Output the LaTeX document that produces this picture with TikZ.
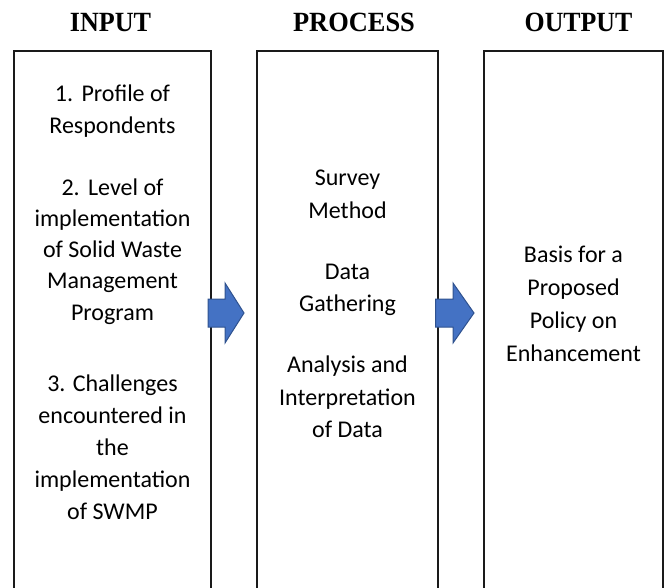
\documentclass[tikz,border=0pt]{standalone}
\usepackage{fontspec}
\usepackage{graphicx}
\setmainfont{Carlito}
\newfontfamily\headfont{Liberation Serif}
\definecolor{arrowfill}{HTML}{4472C4}
\definecolor{arrowline}{HTML}{2F528F}
\definecolor{boxline}{HTML}{1A1A1A}
\tikzset{
  colbox/.style={draw=boxline, line width=1.3pt},
  head/.style={anchor=base, font=\headfont\bfseries\fontsize{27.8}{30}\selectfont, inner sep=0pt},
  body/.style={anchor=base, align=center, font=\fontsize{24}{31.6}\selectfont, inner sep=0pt},
  blockarrow/.style={fill=arrowfill, draw=arrowline, line width=1pt, line join=miter}
}
\begin{document}
\begin{tikzpicture}[x=1pt,y=-1pt]
\useasboundingbox (0,0) rectangle (664,588);
% boxes (open at the bottom edge of the picture)
\draw[colbox] (14,600) -- (14,51) -- (211,51) -- (211,600);
\draw[colbox] (257,600) -- (257,51) -- (438,51) -- (438,600);
\draw[colbox] (484,600) -- (484,51) -- (663,51) -- (663,600);
% headers
\node[head] (hin) at (110.5,31.7) {\scalebox{0.94}[1]{INPUT}};
\node[head] (hproc) at (354,31.7) {\scalebox{0.95}[1]{PROCESS}};
\node[head] (hout) at (578.5,31.7) {\scalebox{0.93}[1]{OUTPUT}};
% input texts (anchor = baseline of the last line)
\node[body, font=\fontsize{24}{31.6}\selectfont] (in1) at (112.5,133.3) {1.\hspace{0.35em}Profile of\\Respondents};
\node[body, font=\fontsize{24}{31.25}\selectfont] (in2) at (112.5,320) {2.\hspace{0.35em}Level of\\implementation\\of Solid Waste\\Management\\Program};
\node[body, font=\fontsize{24}{31.8}\selectfont] (in3) at (112.5,519) {3. Challenges\\encountered in\\the\\implementation\\of SWMP};
% process texts
\node[body, font=\fontsize{24}{32.3}\selectfont] (pr1) at (347.5,218.3) {Survey\\Method};
\node[body, font=\fontsize{24}{32.3}\selectfont] (pr2) at (347.5,311.7) {Data\\Gathering};
\node[body, font=\fontsize{24}{32.3}\selectfont] (pr3) at (347.5,437.3) {Analysis and\\Interpretation\\of Data};
% output text
\node[body, font=\fontsize{24}{33}\selectfont] (out1) at (573.5,361.7) {Basis for a\\Proposed\\Policy on\\Enhancement};
% block arrows
\coordinate (a1) at (208,313);
\coordinate (a2) at (435.7,313);
\draw[blockarrow] (a1) ++(0,-14) -- ++(17,0) -- ++(0,-16) -- ++(19,30) -- ++(-19,30) -- ++(0,-16) -- ++(-17,0) -- cycle;
\draw[blockarrow] (a2) ++(0,-14) -- ++(17.3,0) -- ++(0,-16) -- ++(21,30) -- ++(-21,30) -- ++(0,-16) -- ++(-17.3,0) -- cycle;
\end{tikzpicture}
\end{document}
